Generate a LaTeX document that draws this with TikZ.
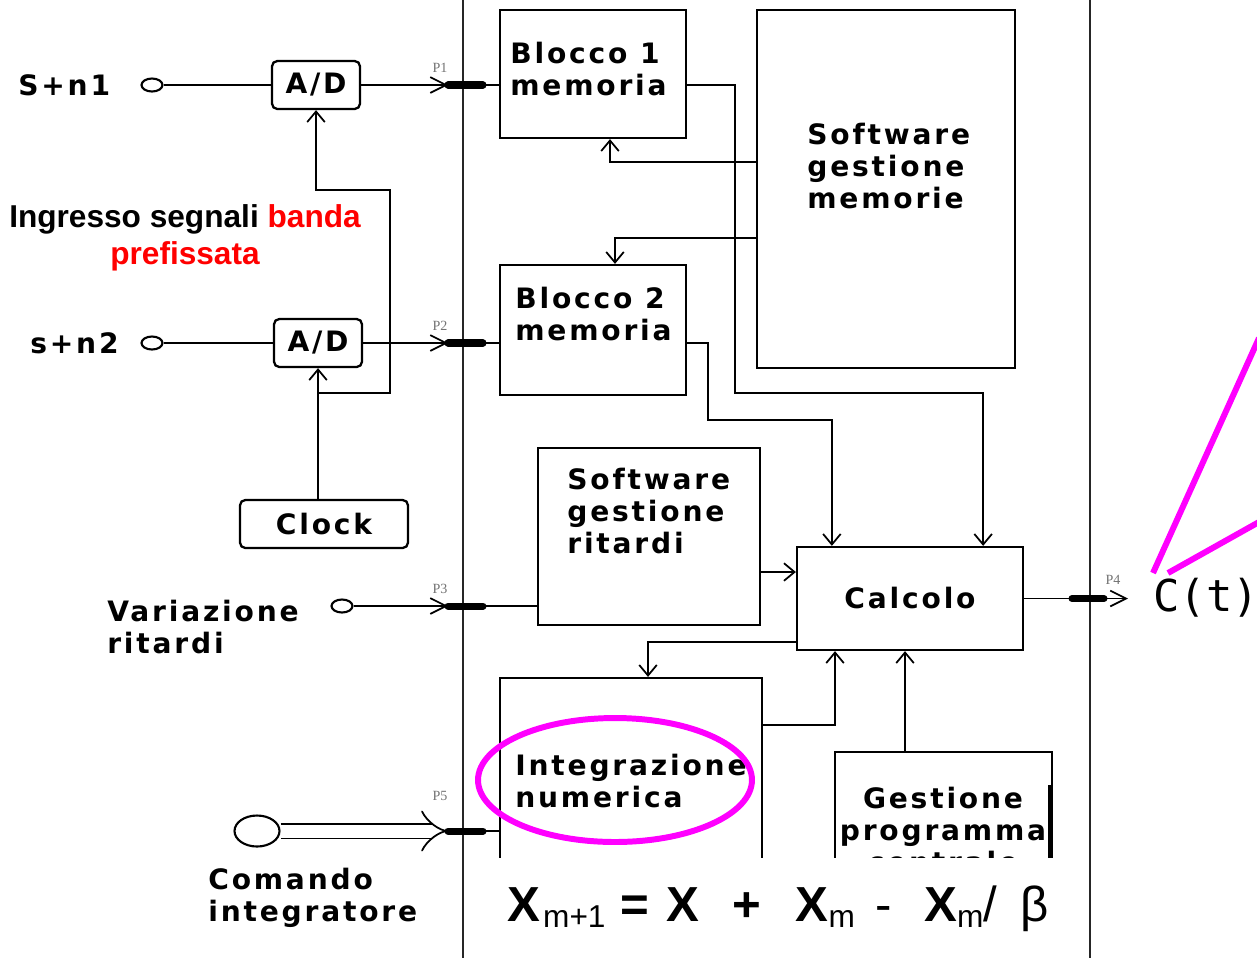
\documentclass[tikz,border=0pt]{standalone}
\usepackage{fontspec}
\setmainfont{Liberation Sans}
\newfontfamily\blkfont[LetterSpace=10]{DejaVu Sans}
\newfontfamily\ctfont{DejaVu Sans Mono}
\newfontfamily\pfont{Liberation Serif}
\usepackage{xcolor}
\usepackage{tikz}
\usetikzlibrary{positioning, arrows.meta, shapes.geometric, calc}

\definecolor{hotpink}{RGB}{255,0,255}
\newcommand\blksize{\blkfont\bfseries\fontsize{16}{18}\selectfont}
\newcommand\eqsub[1]{\raisebox{-0.12cm}{\fontsize{18}{18}\selectfont #1}}

\begin{document}
\begin{tikzpicture}[x=0.02cm, y=-0.02cm,
    blk/.style={draw, line width=1.3pt, inner sep=0pt},
    adbox/.style={blk, rounded corners=3pt, minimum width=1.76cm, minimum height=0.96cm, font=\blksize},
    boxtxt/.style={align=left, anchor=west, inner sep=0pt, font=\blksize},
    sig/.style={line width=1pt},
    tip/.style={sig, -{Straight Barb[length=6pt, width=10pt]}},
    porttip/.style={sig, -{Straight Barb[length=9pt, width=9pt]}},
    portbar/.style={line width=4pt, line cap=round},
    plabel/.style={font=\pfont\fontsize{8}{8}\selectfont, text=black!55},
    jack/.style={ellipse, draw, line width=1.2pt, inner sep=0pt, minimum width=0.42cm, minimum height=0.26cm},
    bus/.style={line width=0.9pt, black!85},
    halo/.style={hotpink, line width=3.4pt}]
    \useasboundingbox (0,0) rectangle (1257,958);

    % bus
    \draw[bus] (463,0) -- (463,958);
    \draw[bus] (1090,0) -- (1090,958);

    % blocks
    \node[adbox] (ad1) at (316,85) {A/D};
    \node[adbox] (ad2) at (318,343) {A/D};
    \node[adbox, minimum width=3.36cm] (clock) at (324,524) {Clock};
    \node[blk, minimum width=3.72cm, minimum height=2.56cm] (blk1) at (593,74) {};
    \node[blk, minimum width=3.72cm, minimum height=2.60cm] (blk2) at (593,330) {};
    \node[blk, minimum width=5.16cm, minimum height=7.16cm] (sgm) at (886,189) {};
    \node[blk, minimum width=4.44cm, minimum height=3.54cm] (sgr) at (649,536.5) {};
    \node[blk, minimum width=4.52cm, minimum height=2.06cm, font=\blksize] (calc) at (910,598.5) {Calcolo};
    \node[blk, minimum width=5.24cm, minimum height=5.24cm] (integ) at (631,809) {};
    \node[blk, minimum width=4.34cm, minimum height=3.76cm] (gpc) at (943.5,846) {};
    \draw[line width=2.4pt] (1050,785) -- (1050,858);

    \node[boxtxt] (blk1txt) at (510,69) {Blocco 1\\memoria};
    \node[boxtxt] (blk2txt) at (515,314) {Blocco 2\\memoria};
    \node[boxtxt] (sgmtxt) at (807,166) {Software\\gestione\\memorie};
    \node[boxtxt] (sgrtxt) at (567,511) {Software\\gestione\\ritardi};
    \node[boxtxt] (integtxt) at (515,781) {Integrazione\\numerica};
    \node[boxtxt, align=center, anchor=center] (gpctxt) at (943,830) {Gestione\\programma\\centrale};

    % inputs
    \node[boxtxt] (sn1) at (18,85) {S+n1};
    \node[boxtxt] (sn2) at (30,343) {s+n2};
    \node[boxtxt] (vartxt) at (107,627) {Variazione\\ritardi};
    \node[boxtxt] (comtxt) at (208,898) {Comando\\integratore};
    \node[align=center, font=\bfseries\fontsize{18}{21}\selectfont] (ingr) at (185,238)
        {Ingresso segnali \textcolor{red}{banda}\\\textcolor{red}{prefissata}};

    \node[jack] (j1) at (152,85) {};
    \node[jack] (j2) at (152,343) {};
    \node[jack] (j3) at (342,606) {};
    \node[jack, minimum width=0.9cm, minimum height=0.62cm] (j5) at (257,831) {};

    \foreach \n/\y/\ly in {1/85/68, 2/343/326, 3/606/589, 5/831/796} {
        \coordinate (pl\n) at (448,\y);
        \coordinate (pr\n) at (483,\y);
        \node[plabel] (lab\n) at (440,\ly) {P\n};
    }

    % signal paths
    \draw[sig] (j1) -- (ad1);
    \draw[sig] (j2) -- (ad2);
    \draw[porttip] (ad1) -- (pl1);
    \draw[porttip] (ad2) -- (pl2);
    \draw[porttip] (j3) -- (pl3);
    \draw[sig, double, double distance=0.26cm, -{Implies}] (j5) -- (pl5);
    \draw[sig] (pr1) -- (pr1 -| blk1.west);
    \draw[sig] (pr2) -- (pr2 -| blk2.west);
    \draw[sig] (pr3) -- (pr3 -| sgr.west);
    \draw[sig] (pr5) -- (pr5 -| integ.west);
    \foreach \n in {1,2,3,5}
        \draw[portbar] (pl\n) -- (pr\n);

    % clock
    \coordinate (clkj) at (318,393);
    \coordinate (clkup) at (390,190);
    \draw[tip] (clock.north -| ad2.south) -- (ad2.south);
    \draw[tip] (clkj) -| (clkup) -| (ad1.south);

    % memories
    \coordinate (b1turn) at (735,393);
    \coordinate (b2turn) at (708,420);
    \draw[tip] (blk1.east |- pr1) -| (b1turn) -| ([xshift=-0.82cm]calc.north east);
    \draw[tip] (blk2.east |- pr2) -| (b2turn) -| ([xshift=0.72cm]calc.north west);
    \coordinate (m1) at (610,162);
    \coordinate (m2) at (615,238);
    \draw[tip] (m1 -| sgm.west) -- (m1) -- (m1 |- blk1.south);
    \draw[tip] (m2 -| sgm.west) -- (m2) -- (m2 |- blk2.north);

    % calcolo
    \coordinate (r1) at (780,572);
    \coordinate (ci) at (648,642);
    \coordinate (ic) at (835,725);
    \coordinate (gc) at (905,700);
    \draw[tip] (sgr.east |- r1) -- (calc.west |- r1);
    \draw[tip] (calc.west |- ci) -- (ci) -- (ci |- integ.north);
    \draw[tip] (integ.east |- ic) -- (ic) -- (ic |- calc.south);
    \draw[tip] (gpc.north -| gc) -- (calc.south -| gc);

    % output
    \coordinate (pl4) at (1072,598.5);
    \coordinate (pr4) at (1104,598.5);
    \coordinate (pt4) at (1128,598.5);
    \draw[sig] (calc.east) -- (pl4);
    \draw[portbar] (pl4) -- (pr4);
    \draw[porttip] (pr4) -- (pt4);
    \node[plabel] (lab4) at (1113,580) {P4};
    \node[font=\ctfont\fontsize{25}{25}\selectfont, anchor=west, inner sep=0pt] (ct) at (1153,598) {C(t)};

    % highlights
    \draw[halo] (615,780) ellipse [x radius=2.74cm, y radius=1.24cm];
    \draw[halo] (1153,573) -- (1259,338);
    \draw[halo] (1168,573) -- (1259,522);

    % formula
    \fill[white] (470,858) rectangle (1057,958);
    \node[font=\fontsize{28}{28}\selectfont, anchor=base west, inner sep=0pt] (eqn) at (507,921)
        {\textbf{X}\hspace{0.06cm}\eqsub{m+1}\hspace{0.3cm}\textbf{=}\hspace{0.34cm}\textbf{X}\hspace{0.66cm}\textbf{+}\hspace{0.7cm}\textbf{X}\eqsub{m}\hspace{0.42cm}-\hspace{0.64cm}\textbf{X}\eqsub{m}/\hspace{0.46cm}β};
\end{tikzpicture}
\end{document}
